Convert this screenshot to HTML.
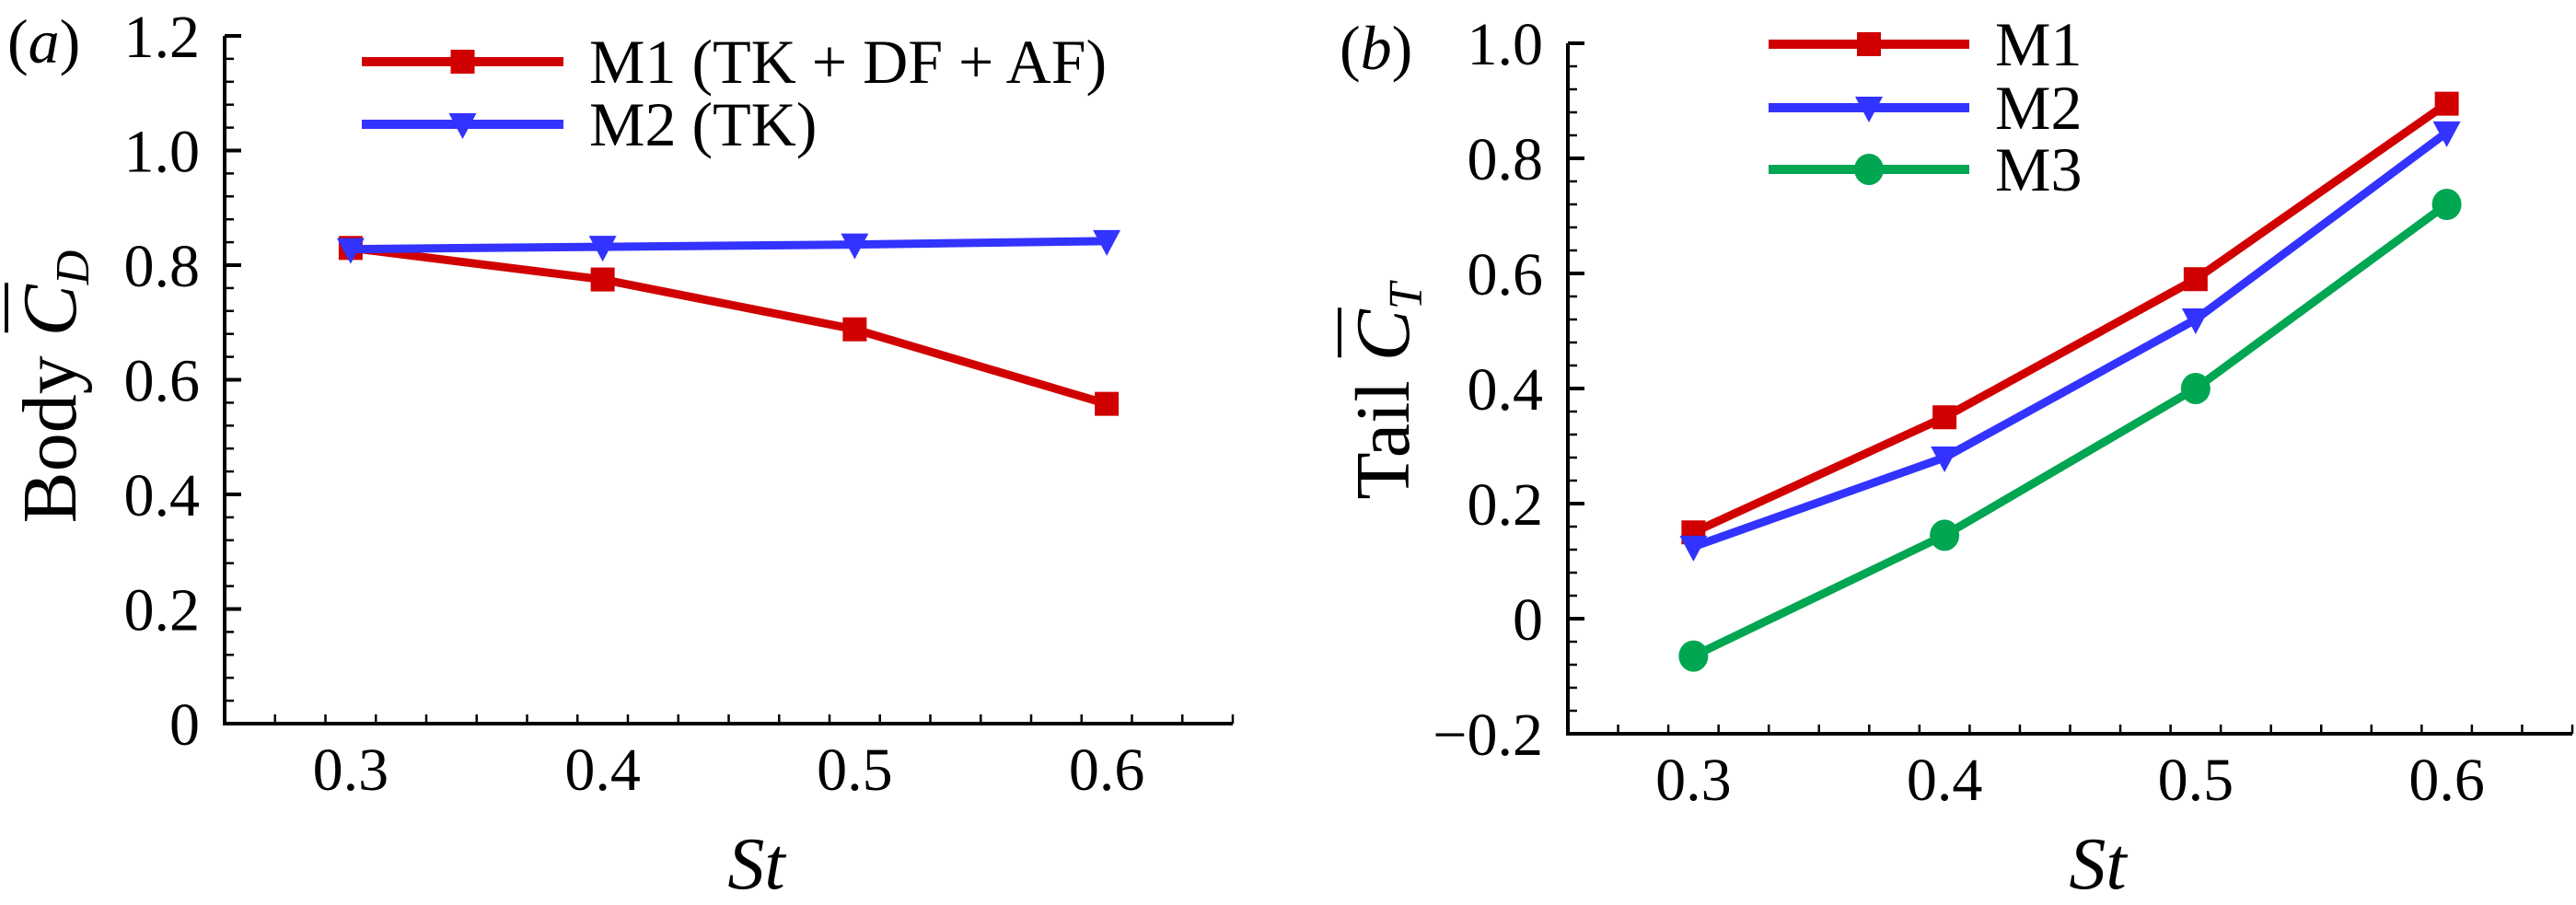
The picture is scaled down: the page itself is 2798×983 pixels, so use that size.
<!DOCTYPE html>
<html><head><meta charset="utf-8"><style>
html,body{margin:0;padding:0;background:#fff;}
svg{display:block;font-family:"Liberation Serif",serif;}
</style></head><body>
<svg id="fig" width="2798" height="983" viewBox="0 0 2798 983" xmlns="http://www.w3.org/2000/svg"></svg>
<script>
const stValues=[0.3,0.4,0.5,0.6];
const bodyM1=[0.83,0.775,0.688,0.558];
const bodyM2=[0.828,0.832,0.836,0.842];
const tailM1=[0.15,0.35,0.59,0.895];
const tailM2=[0.125,0.28,0.52,0.845];
const tailM3=[-0.065,0.145,0.40,0.72];
const xTickLabels=["0.3","0.4","0.5","0.6"];
const leftYTickLabels=["0","0.2","0.4","0.6","0.8","1.0","1.2"];
const rightYTickLabels=["\u22120.2","0","0.2","0.4","0.6","0.8","1.0"];

const NS="http://www.w3.org/2000/svg";
const svg=document.getElementById('fig');
function mk(tag,attrs,parent){const e=document.createElementNS(NS,tag);for(const k in attrs)e.setAttribute(k,attrs[k]);(parent||svg).appendChild(e);return e;}
const RED="#d10000",BLUE="#3333ff",GREEN="#00a651";

function panel(cfg){
  const g=mk('g',{});
  
  
  const sx=v=>cfg.x0+(v-cfg.xmin)/(cfg.xmax-cfg.xmin)*(cfg.x1-cfg.x0);
  const sy=v=>cfg.y0-(v-cfg.ymin)/(cfg.ymax-cfg.ymin)*(cfg.y0-cfg.y1);
  const ax=mk('path',{d:`M${cfg.x0},${cfg.y1} V${cfg.y0} H${cfg.x1}`,fill:'none',stroke:'#000','stroke-width':4},g);
  
  
  for(let v=cfg.xmin+0.02;v<=cfg.xmax+1e-9;v+=0.02){
    const r=Math.round(v*100)/100;const major=Math.abs(r*10-Math.round(r*10))<1e-6;
    mk('line',{x1:sx(r),x2:sx(r),y1:cfg.y0,y2:cfg.y0-(major?18:10),stroke:'#000','stroke-width':major?4:2.5},g);
  }
  xTickLabels.forEach((t,i)=>{
    const tx=mk('text',{x:sx(stValues[i]),y:cfg.y0+72,'font-size':66,'text-anchor':'middle'},g);
    tx.textContent=t;
    
    
  });
  const nMinor=Math.round((cfg.ymax-cfg.ymin)/0.04);
  for(let k=1;k<=nMinor;k++){
    const v=cfg.ymin+k*0.04;const major=k%5===0;
    mk('line',{x1:cfg.x0,x2:cfg.x0+(major?18:10),y1:sy(v),y2:sy(v),stroke:'#000','stroke-width':major?4:2.5},g);
  }
  cfg.yLabels.forEach((t,i)=>{
    const tx=mk('text',{x:cfg.x0-27,y:sy(cfg.ymin+i*0.2)+23,'font-size':66,'text-anchor':'end'},g);
    tx.textContent=t;
    
    
  });
  cfg.series.forEach(s=>{
    const sg=mk('g',{},g);
    
    
    mk('polyline',{points:s.vals.map((v,i)=>sx(stValues[i])+','+sy(v)).join(' '),fill:'none',stroke:s.color,'stroke-width':9,'stroke-linejoin':'round'},sg);
    s.vals.forEach((v,i)=>marker(s.shape,sx(stValues[i]),sy(v),s.color,sg));
  });
  cfg.series.forEach((s,i)=>{
    const lg=mk('g',{},g);
    
    
    const y=cfg.legY[i];
    mk('line',{x1:cfg.legX0,x2:cfg.legX1,y1:y,y2:y,stroke:s.color,'stroke-width':10},lg);
    marker(s.shape,(cfg.legX0+cfg.legX1)/2,y,s.color,lg);
    const t=mk('text',{x:cfg.legX1+28,y:y+23,'font-size':68},lg);
    t.textContent=s.label;
  });
  const pl=mk('text',{x:cfg.plX,y:cfg.plY,'font-size':68,'font-style':'italic'},g);
  pl.innerHTML='<tspan font-style="normal">(</tspan>'+cfg.pl+'<tspan font-style="normal">)</tspan>';
  
  
  const xt=mk('text',{x:(cfg.x0+cfg.x1)/2+30,y:965,'font-size':80,'font-style':'italic','text-anchor':'middle'},g);
  xt.textContent='St';
  
  
  const yg=mk('g',{transform:`translate(${cfg.ytX},${cfg.ytY}) rotate(-90)`},g);
  
  
  const yt=mk('text',{'font-size':84,'text-anchor':'middle'},yg);
  yt.innerHTML=cfg.ytWord+' <tspan font-style="italic">C</tspan><tspan font-style="italic" font-size="52" dy="14">'+cfg.ytSub+'</tspan>';
  try{
    const idx=cfg.ytWord.length+1;
    const ex=yt.getExtentOfChar(idx);
    mk('line',{x1:ex.x+4,x2:ex.x+ex.width+2,y1:-75,y2:-75,stroke:'#000','stroke-width':4},yg);
  }catch(e){}
}
function marker(shape,x,y,c,p){
  if(shape==='sq')mk('rect',{x:x-13,y:y-13,width:26,height:26,fill:c},p);
  else if(shape==='tri')mk('polygon',{points:`${x-15},${y-12} ${x+15},${y-12} ${x},${y+16}`,fill:c},p);
  else mk('ellipse',{cx:x,cy:y,rx:16,ry:17,fill:c},p);
}
panel({name:'panel-a-body-drag',x0:244,x1:1339,xmin:0.25,xmax:0.65,y0:786,y1:39,ymin:0,ymax:1.2,
  yLabels:leftYTickLabels,legX0:393,legX1:612,legY:[67,135],plX:8,plY:68,pl:'a',ytX:82,ytY:420,ytWord:'Body',ytSub:'D',
  series:[{key:'m1',vals:bodyM1,color:RED,shape:'sq',label:'M1 (TK + DF + AF)'},{key:'m2',vals:bodyM2,color:BLUE,shape:'tri',label:'M2 (TK)'}]});
panel({name:'panel-b-tail-thrust',x0:1703,x1:2794,xmin:0.25,xmax:0.65,y0:797,y1:47,ymin:-0.2,ymax:1.0,
  yLabels:rightYTickLabels,legX0:1921,legX1:2139,legY:[48,117,184],plX:1455,plY:75,pl:'b',ytX:1530,ytY:425,ytWord:'Tail',ytSub:'T',
  series:[{key:'m1',vals:tailM1,color:RED,shape:'sq',label:'M1'},{key:'m2',vals:tailM2,color:BLUE,shape:'tri',label:'M2'},{key:'m3',vals:tailM3,color:GREEN,shape:'circ',label:'M3'}]});
</script>
</body></html>
